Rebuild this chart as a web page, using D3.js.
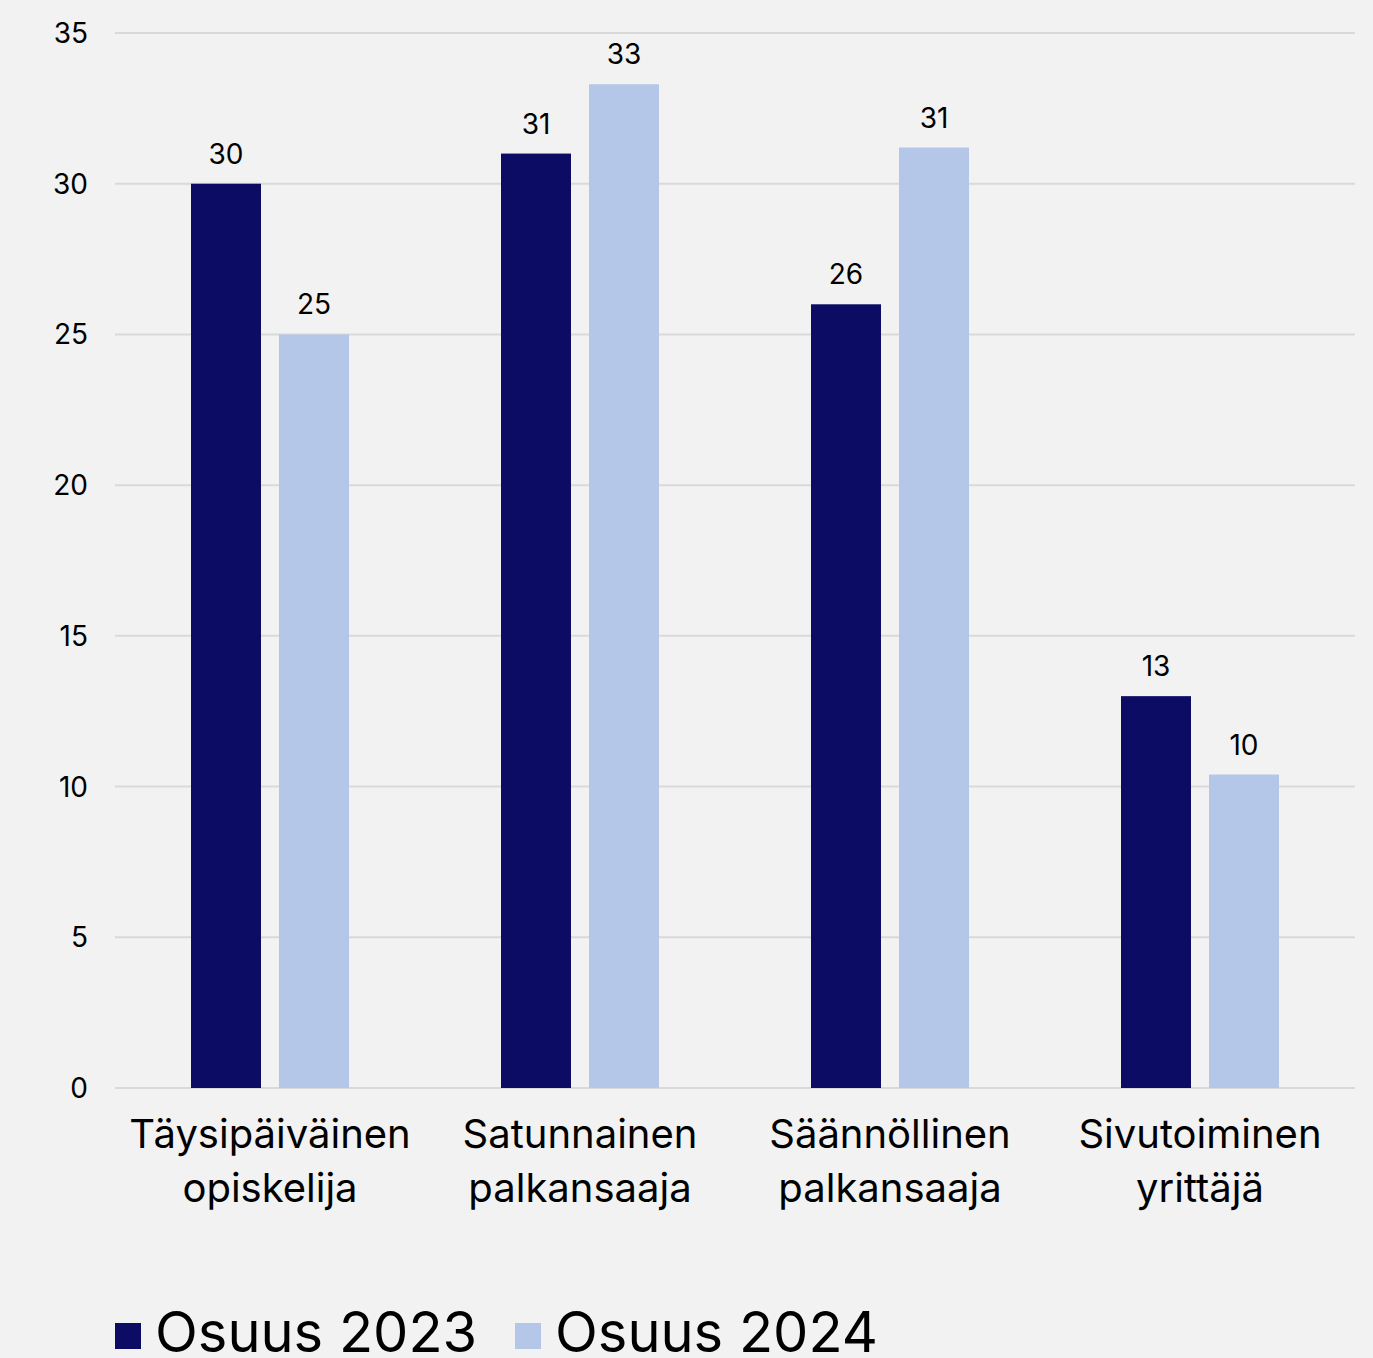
<!DOCTYPE html>
<html lang="fi">
<head>
<meta charset="UTF-8">
<script src="https://d3js.org/d3.v7.min.js"></script>
<style>
  body { margin: 0; background: #f2f2f2; }
  text { font-family: Inter, "Noto Sans", sans-serif; fill: #000; }
</style>
</head>
<body>
<script>
var categories = [["Täysipäiväinen", "opiskelija"], ["Satunnainen", "palkansaaja"], ["Säännöllinen", "palkansaaja"], ["Sivutoiminen", "yrittäjä"]];
var seriesNames = ["Osuus 2023", "Osuus 2024"];
var values2023 = [30, 31, 26, 13];
var values2024 = [25, 33.3, 31.2, 10.4];
var yTicks = [0, 5, 10, 15, 20, 25, 30, 35];
var colors = ["#0c0c64", "#b4c7e9"];

var W = 1373, H = 1358;
var plotLeft = 115, plotRight = 1355, plotTop = 33, plotBottom = 1088;

var svg = d3.select("body").append("svg")
    .attr("width", W)
    .attr("height", H)
    .style("background", "#f2f2f2");

var x = d3.scaleBand().domain(d3.range(categories.length)).range([plotLeft, plotRight]);
var y = d3.scaleLinear().domain([0, 35]).range([plotBottom, plotTop]);
var barW = 70, gap = 18;

// gridlines
svg.selectAll("line.grid")
    .data(yTicks)
    .enter().append("line")
    .attr("x1", plotLeft).attr("x2", plotRight)
    .attr("y1", function(d) { return y(d); })
    .attr("y2", function(d) { return y(d); })
    .attr("stroke", "#d9d9d9")
    .attr("stroke-width", 2);

// y tick labels
svg.selectAll("text.ytick")
    .data(yTicks)
    .enter().append("text")
    .attr("x", 88)
    .attr("y", function(d) { return y(d) + 10; })
    .attr("text-anchor", "end")
    .attr("font-size", 28)
    .text(function(d) { return d; });

var series = [values2023, values2024];
series.forEach(function(vals, s) {
    var bx = function(i) { return x(i) + x.bandwidth() / 2 - barW - gap / 2 + s * (barW + gap); };
    svg.selectAll("rect.s" + s)
        .data(vals)
        .enter().append("rect")
        .attr("x", function(d, i) { return bx(i); })
        .attr("y", function(d) { return y(d); })
        .attr("width", barW)
        .attr("height", function(d) { return y(0) - y(d); })
        .attr("fill", colors[s]);
    svg.selectAll("text.l" + s)
        .data(vals)
        .enter().append("text")
        .attr("x", function(d, i) { return bx(i) + barW / 2; })
        .attr("y", function(d) { return y(d) - 20; })
        .attr("text-anchor", "middle")
        .attr("font-size", 28)
        .text(function(d) { return Math.round(d); });
});

// category labels
categories.forEach(function(lines, i) {
    var t = svg.append("text")
        .attr("x", x(i) + x.bandwidth() / 2)
        .attr("y", 1148)
        .attr("text-anchor", "middle")
        .attr("font-size", 40);
    lines.forEach(function(l, k) {
        t.append("tspan")
            .attr("x", x(i) + x.bandwidth() / 2)
            .attr("dy", k === 0 ? 0 : 54)
            .text(l);
    });
});

// legend
var legX = [115, 515];
seriesNames.forEach(function(n, s) {
    svg.append("rect")
        .attr("x", legX[s]).attr("y", 1323)
        .attr("width", 26).attr("height", 26)
        .attr("fill", colors[s]);
    svg.append("text")
        .attr("x", legX[s] + 40)
        .attr("y", 1352)
        .attr("font-size", 56)
        .text(n);
});
</script>
</body>
</html>
